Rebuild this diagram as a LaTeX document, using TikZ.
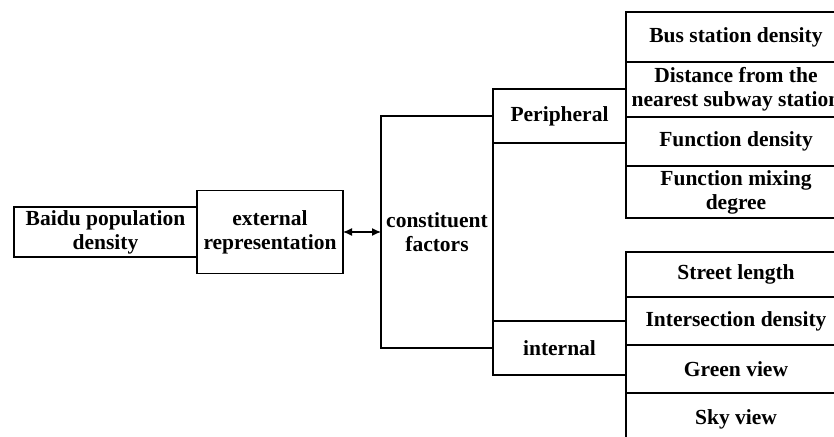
\documentclass[tikz,border=0pt]{standalone}
\usepackage{fontspec}
\setmainfont{Liberation Serif}
\usepackage{tikz}
\usetikzlibrary{arrows.meta,positioning,calc}

\begin{document}
\begin{tikzpicture}[
    x=1pt, y=-1pt,
    box/.style={rectangle, draw=black, line width=1.2pt, inner sep=0pt, outer sep=0pt, align=center,
        font=\fontsize{21.5}{24}\selectfont\bfseries},
    leaf/.style={box, minimum width=220pt},
    link/.style={{Latex[length=9pt,width=8pt]}-{Latex[length=9pt,width=8pt]}, line width=1.2pt}
]
    \useasboundingbox (0,0) rectangle (834,436);
    \clip (0,0) rectangle (834,436);

    % Left part
    \node[box, minimum width=183pt, minimum height=50pt] (baidu) at (105.5,232) {Baidu population\\density};
    \node[box, minimum width=146pt, minimum height=83pt, right=0pt of baidu] (ext) {external\\representation};
    \node[box, minimum width=112pt, minimum height=232pt, right=38pt of ext] (factors) {constituent\\factors};

    \draw[link] (ext.east) -- (ext.east -| factors.west);

    % Middle part
    \node[box, minimum width=133pt, minimum height=54pt, anchor=west] (peri) at (factors.north east) {Peripheral};
    \node[box, minimum width=133pt, minimum height=54pt, anchor=west] (internal) at (factors.south east) {internal};

    % Peripheral factors
    \node[leaf, minimum height=50pt, anchor=west] (bus) at (626,37) {Bus station density};
    \node[leaf, minimum height=55pt, below=0pt of bus] (subway) {Distance from the\\nearest subway station};
    \node[leaf, minimum height=49pt, below=0pt of subway] (fden) {Function density};
    \node[leaf, minimum height=52pt, below=0pt of fden] (fmix) {Function mixing\\degree};

    % Internal factors
    \node[leaf, minimum height=45pt, anchor=west] (street) at (626,274.5) {Street length};
    \node[leaf, minimum height=48pt, below=0pt of street] (inter) {Intersection density};
    \node[leaf, minimum height=48pt, below=0pt of inter] (green) {Green view};
    \node[leaf, minimum height=52pt, below=0pt of green] (sky) {Sky view};

\end{tikzpicture}
\end{document}
